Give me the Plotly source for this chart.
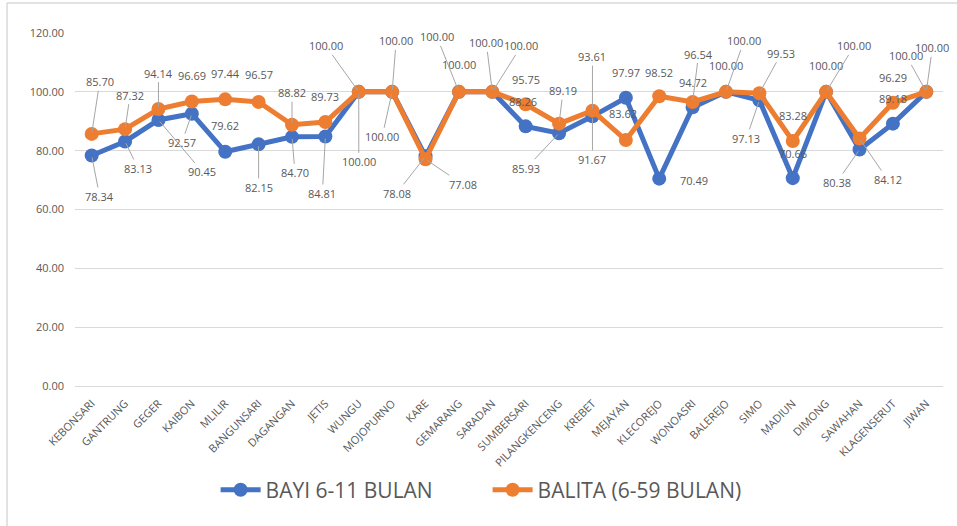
import plotly.graph_objects as go

categories = ["KEBONSARI", "GANTRUNG", "GEGER", "KAIBON", "MLILIR", "BANGUNSARI",
              "DAGANGAN", "JETIS", "WUNGU", "MOJOPURNO", "KARE", "GEMARANG", "SARADAN",
              "SUMBERSARI", "PILANGKENCENG", "KREBET", "MEJAYAN", "KLECOREJO", "WONOASRI",
              "BALEREJO", "SIMO", "MADIUN", "DIMONG", "SAWAHAN", "KLAGENSERUT", "JIWAN"]

bayi = [78.34, 83.13, 90.45, 92.57, 79.62, 82.15, 84.70, 84.81, 100.00, 100.00, 78.08,
        100.00, 100.00, 88.26, 85.93, 91.67, 97.97, 70.49, 94.72, 100.00, 97.13, 70.66,
        100.00, 80.38, 89.18, 100.00]

balita = [85.70, 87.32, 94.14, 96.69, 97.44, 96.57, 88.82, 89.73, 100.00, 100.00, 77.08,
          100.00, 100.00, 95.75, 89.19, 93.61, 83.62, 98.52, 96.54, 100.00, 99.53, 83.28,
          100.00, 84.12, 96.29, 100.00]

y_ticks = [0, 20, 40, 60, 80, 100, 120]

# label offsets in pixels (dx, dy, leader line shown)
bayi_label_pos = [(8, 41, 1), (13, 27, 1), (44, 52, 1), (-10, 29, 1), (0, -26, 0), (0, 43, 1),
                  (3, 36, 1), (-3, 57, 1), (0, 70, 1), (-10, 45, 1), (-29, 37, 1), (0, -27, 0),
                  (-6, -49, 1), (-3, -25, 0), (-33, 35, 1), (0, 43, 1), (0, -25, 0), (35, 2, 0),
                  (0, -25, 0), (0, -26, 0), (-13, 38, 1), (0, -25, 0), (0, -26, 0), (-23, 33, 1),
                  (0, -25, 0), (-20, -36, 1)]
balita_label_pos = [(8, -52, 1), (5, -34, 1), (0, -36, 1), (0, -26, 0), (0, -26, 0), (0, -27, 0),
                    (0, -32, 1), (0, -26, 0), (-33, -46, 1), (4, -51, 1), (37, 25, 1), (-22, -55, 1),
                    (29, -46, 1), (0, -25, 0), (4, -33, 1), (0, -54, 1), (-3, -27, 0), (0, -24, 0),
                    (6, -48, 1), (18, -51, 1), (22, -40, 1), (0, -26, 0), (28, -46, 1), (28, 41, 1),
                    (0, -25, 0), (6, -44, 1)]

BLUE = "#4472C4"
ORANGE = "#ED7D31"
TXT = "#595959"
FONT = "Open Sans"

fig = go.Figure()
fig.add_trace(go.Scatter(x=categories, y=bayi, name="BAYI 6-11 BULAN", mode="lines+markers",
                         line=dict(color=BLUE, width=5), marker=dict(color=BLUE, size=14)))
fig.add_trace(go.Scatter(x=categories, y=balita, name="BALITA (6-59 BULAN)", mode="lines+markers",
                         line=dict(color=ORANGE, width=5), marker=dict(color=ORANGE, size=14)))

annotations = []
for vals, pos in ((bayi, bayi_label_pos), (balita, balita_label_pos)):
    for cat, v, (dx, dy, lead) in zip(categories, vals, pos):
        a = dict(x=cat, y=v, text=f"{v:.2f}", font=dict(family=FONT, size=11, color=TXT))
        if lead:
            a.update(showarrow=True, ax=dx, ay=dy, arrowhead=0, arrowwidth=1,
                     arrowcolor="#A6A6A6", standoff=2)
        else:
            a.update(showarrow=False, xshift=dx, yshift=-dy)
        annotations.append(a)

fig.update_layout(
    width=957, height=526,
    margin=dict(l=75, r=14, t=33, b=140),
    paper_bgcolor="white", plot_bgcolor="white",
    font=dict(family=FONT, color=TXT),
    annotations=annotations,
    showlegend=True,
    legend=dict(orientation="h", x=0.162, xanchor="left", y=-0.295, yanchor="middle",
                font=dict(family=FONT, size=21, color=TXT), entrywidth=217,
                entrywidthmode="pixels", itemwidth=40),
    shapes=[
        dict(type="line", xref="paper", yref="paper", x0=-0.0783, x1=-0.0783,
             y0=-0.42, y1=1.085, line=dict(color="#D9D9D9", width=1.5), layer="above"),
        dict(type="line", xref="paper", yref="paper", x0=-0.0783, x1=1.03,
             y0=1.085, y1=1.085, line=dict(color="#D9D9D9", width=1.5), layer="above"),
    ],
)
fig.update_xaxes(type="category", range=[-0.5, len(categories) - 0.5], tickangle=-45,
                 tickfont=dict(family=FONT, size=11, color=TXT), showgrid=False,
                 showline=False, ticks="", ticklabelstandoff=8)
fig.update_yaxes(range=[0, 120], tickvals=y_ticks, tickformat=".2f",
                 tickfont=dict(family=FONT, size=11, color=TXT), gridcolor="#D9D9D9",
                 gridwidth=1, zeroline=True, zerolinecolor="#D9D9D9", zerolinewidth=1,
                 showline=False, ticks="", ticklen=0, ticklabelstandoff=10)

fig.write_html("out.html", config={"displayModeBar": False},
               post_script="document.body.style.margin='0';document.body.style.overflow='hidden';")
